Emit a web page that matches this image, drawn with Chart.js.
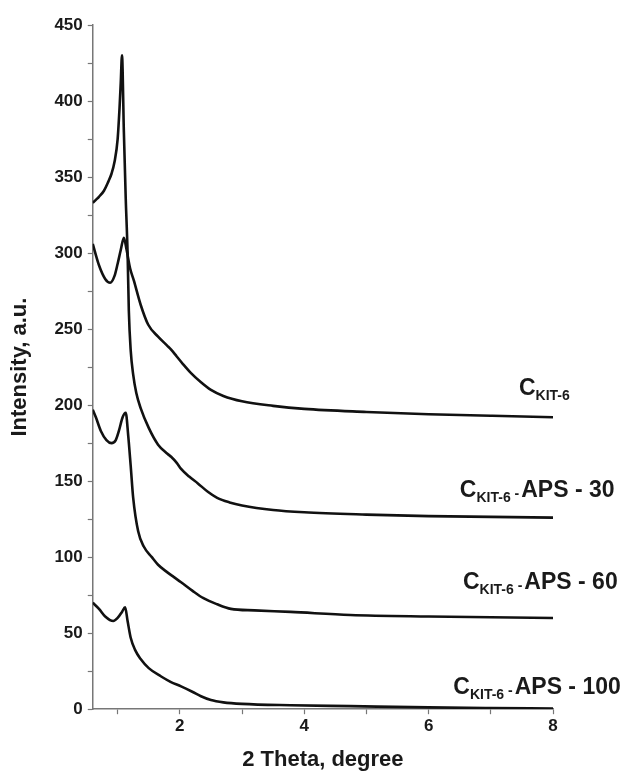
<!DOCTYPE html>
<html>
<head>
<meta charset="utf-8">
<script src="https://cdn.jsdelivr.net/npm/chart.js@4.4.1/dist/chart.umd.min.js"></script>
<style>
  html, body { margin: 0; padding: 0; background: #fff; }
  #wrap { width: 624px; height: 773px; position: relative; }
</style>
</head>
<body>
<div id="wrap"><canvas id="xrd"></canvas></div>
<script>
// small-angle XRD patterns, 2 theta (degree) vs intensity (a.u.)
const kitX = [0.6, 0.7, 0.8, 0.88, 0.95, 1.0, 1.05, 1.1, 1.14, 1.2, 1.26, 1.37, 1.49, 1.65, 1.8, 1.86, 1.95, 2.05, 2.18, 2.34, 2.5, 2.7, 3.0, 3.5, 4.0, 5.0, 6.0, 7.0, 8.0];
const kitY = [306, 292, 283, 280.5, 285, 293, 302, 310, 303, 290, 282, 266, 253, 245, 239, 236.5, 232, 227, 221, 215, 210, 206, 202.5, 199.5, 197.5, 195.5, 194, 193, 192];

const aps30X = [0.6, 0.65, 0.7, 0.78, 0.85, 0.9, 0.95, 1.0, 1.03, 1.05, 1.07, 1.1, 1.13, 1.16, 1.18, 1.21, 1.25, 1.3, 1.37, 1.5, 1.65, 1.8, 1.86, 1.95, 2.02, 2.15, 2.29, 2.45, 2.6, 2.8, 3.0, 3.5, 4.0, 5.0, 6.0, 7.0, 8.0];
const aps30Y = [333, 335, 337, 341, 347, 352, 360, 375, 395, 412, 430, 380, 336, 300, 262, 236, 220, 208, 198, 185, 174, 168, 166, 162, 158, 153, 148.5, 143, 139, 136, 134, 131, 129.5, 128, 127, 126.5, 126];

const aps60X = [0.6, 0.65, 0.73, 0.82, 0.9, 0.97, 1.02, 1.08, 1.13, 1.17, 1.21, 1.25, 1.33, 1.42, 1.55, 1.65, 1.8, 1.9, 2.02, 2.2, 2.38, 2.6, 2.82, 3.2, 3.78, 4.74, 6.0, 7.0, 8.0];
const aps60Y = [197, 192, 183, 177, 175, 177, 183, 192, 195, 180, 160, 139, 117, 107, 100, 95, 90, 87, 83.5, 78, 73, 69, 66, 65, 64, 62, 61, 60.5, 60];

const aps100X = [0.6, 0.7, 0.8, 0.93, 1.0, 1.07, 1.12, 1.16, 1.21, 1.28, 1.37, 1.5, 1.7, 1.85, 2.02, 2.2, 2.34, 2.5, 2.7, 3.0, 3.78, 4.74, 6.0, 7.0, 8.0];
const aps100Y = [70, 66, 61, 58, 60, 64, 67, 58, 47, 39, 33, 27, 21.5, 18, 15, 11.5, 8.5, 6, 4.5, 3.5, 2.6, 2, 1.2, 0.8, 0.5];

// curve labels: subscript part and the rest
const labelSub = ["KIT-6", "KIT-6", "KIT-6", "KIT-6"];
const labelTail = ["", "APS - 30", "APS - 60", "APS - 100"];
// where each label sits (right edge in 2 theta, centre in intensity)
const labelPos = [[8.27, 212], [8.99, 145], [9.04, 84], [9.09, 15]];

const xTicks = [1, 2, 3, 4, 5, 6, 7, 8];

function pts(xs, ys) {
  return xs.map((x, i) => ({ x: x, y: ys[i] }));
}

const FONT = '"Liberation Sans", Arial, sans-serif';

const curveLabels = {
  id: "curveLabels",
  afterDatasetsDraw(chart) {
    const ctx = chart.ctx;
    const xs = chart.scales.x, ys = chart.scales.y;
    ctx.save();
    ctx.fillStyle = "#1a1a1a";
    ctx.textBaseline = "alphabetic";
    labelPos.forEach((p, i) => {
      const right = xs.getPixelForValue(p[0]);
      const mid = ys.getPixelForValue(p[1]);
      const base = mid + 8;
      const big = "bold 23px " + FONT;
      const small = "bold 14px " + FONT;
      ctx.font = big;
      const wC = ctx.measureText("C").width;
      const wTail = labelTail[i] ? ctx.measureText(labelTail[i]).width : 0;
      ctx.font = small;
      const wSub = ctx.measureText(labelSub[i]).width;
      const wSep = labelTail[i] ? ctx.measureText(" -").width + 2 : 0;
      let x = right - (wC + wSub + wSep + wTail);
      ctx.font = big;
      ctx.fillText("C", x, base);
      x += wC;
      ctx.font = small;
      ctx.fillText(labelSub[i], x, base + 5);
      x += wSub;
      if (labelTail[i]) {
        ctx.fillText(" -", x, base + 1);
        x += wSep;
        ctx.font = big;
        ctx.fillText(labelTail[i], x, base);
      }
    });
    ctx.restore();
  }
};

const lineStyle = {
  borderColor: "#111",
  borderWidth: 2.6,
  pointRadius: 0,
  fill: false,
  cubicInterpolationMode: "monotone"
};

new Chart(document.getElementById("xrd"), {
  type: "line",
  data: {
    datasets: [
      Object.assign({ label: "C KIT-6", data: pts(kitX, kitY) }, lineStyle),
      Object.assign({ label: "C KIT-6 APS - 30", data: pts(aps30X, aps30Y) }, lineStyle),
      Object.assign({ label: "C KIT-6 APS - 60", data: pts(aps60X, aps60Y) }, lineStyle),
      Object.assign({ label: "C KIT-6 APS - 100", data: pts(aps100X, aps100Y) }, lineStyle)
    ]
  },
  options: {
    responsive: true,
    maintainAspectRatio: false,
    animation: false,
    layout: { padding: { left: 7, right: 71, top: 25, bottom: 0 } },
    plugins: { legend: { display: false }, tooltip: { enabled: false } },
    scales: {
      x: {
        type: "linear",
        min: 0.6,
        max: 8,
        afterBuildTicks: (scale) => {
          scale.ticks = xTicks.map(v => ({ value: v }));
        },
        ticks: {
          autoSkip: false,
          maxRotation: 0,
          padding: 2,
          color: "#1a1a1a",
          font: { family: FONT, size: 17, weight: "bold" },
          callback: (v) => (v % 2 === 0 ? v : "")
        },
        grid: { drawOnChartArea: false, drawTicks: true, tickLength: 5, color: "#777", tickWidth: 1.2 },
        border: { display: true, color: "#777", width: 1.5 },
        title: {
          display: true,
          text: "2 Theta, degree",
          color: "#1a1a1a",
          font: { family: FONT, size: 22, weight: "bold" },
          padding: { top: 8, bottom: 0 }
        }
      },
      y: {
        min: 0,
        max: 450,
        ticks: {
          stepSize: 25,
          autoSkip: false,
          padding: 5,
          color: "#1a1a1a",
          font: { family: FONT, size: 17, weight: "bold" },
          callback: (v) => (v % 50 === 0 ? v : "")
        },
        grid: { drawOnChartArea: false, drawTicks: true, tickLength: 5, color: "#777", tickWidth: 1.2 },
        border: { display: true, color: "#777", width: 1.5 },
        title: {
          display: true,
          text: "Intensity, a.u.",
          color: "#1a1a1a",
          font: { family: FONT, size: 22, weight: "bold" },
          padding: { top: 0, bottom: 16 }
        }
      }
    }
  },
  plugins: [curveLabels]
});
</script>
</body>
</html>
